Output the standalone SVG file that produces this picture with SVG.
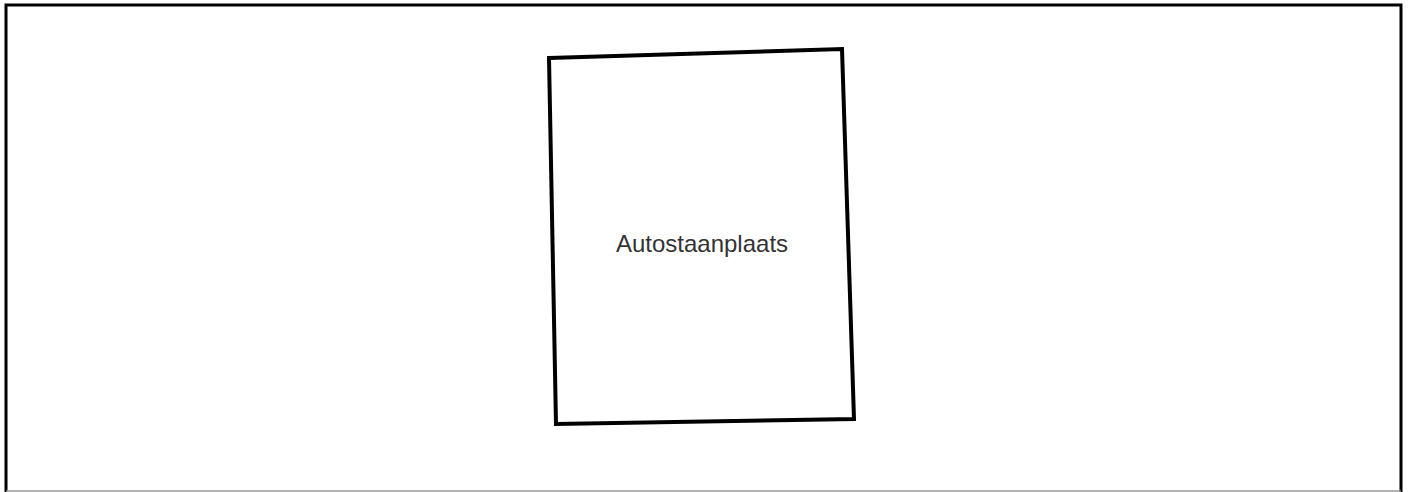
<svg xmlns="http://www.w3.org/2000/svg" width="1410" height="492" viewBox="0 0 1410 492">
<style>
.frame{fill:none;stroke:#000;stroke-width:3}
.shape{fill:#fff;stroke:#000;stroke-width:4;stroke-linejoin:miter}
.label{font-family:"Liberation Sans",Arial,sans-serif;font-size:24px;fill:#333;text-anchor:middle}
</style>
<rect width="1410" height="492" fill="#fff"/>
<path class="frame" d="M6,492 V5 H1401 V492"/>
<line x1="6" y1="491" x2="1401" y2="491" stroke="#999" stroke-width="1.5"/>
<g id="autostaanplaats">
<polygon class="shape" points="549,58 842,49 854,419 556,424"/>
<text class="label" x="702" y="252">Autostaanplaats</text>
</g>
<g id="connectors"/>
</svg>
